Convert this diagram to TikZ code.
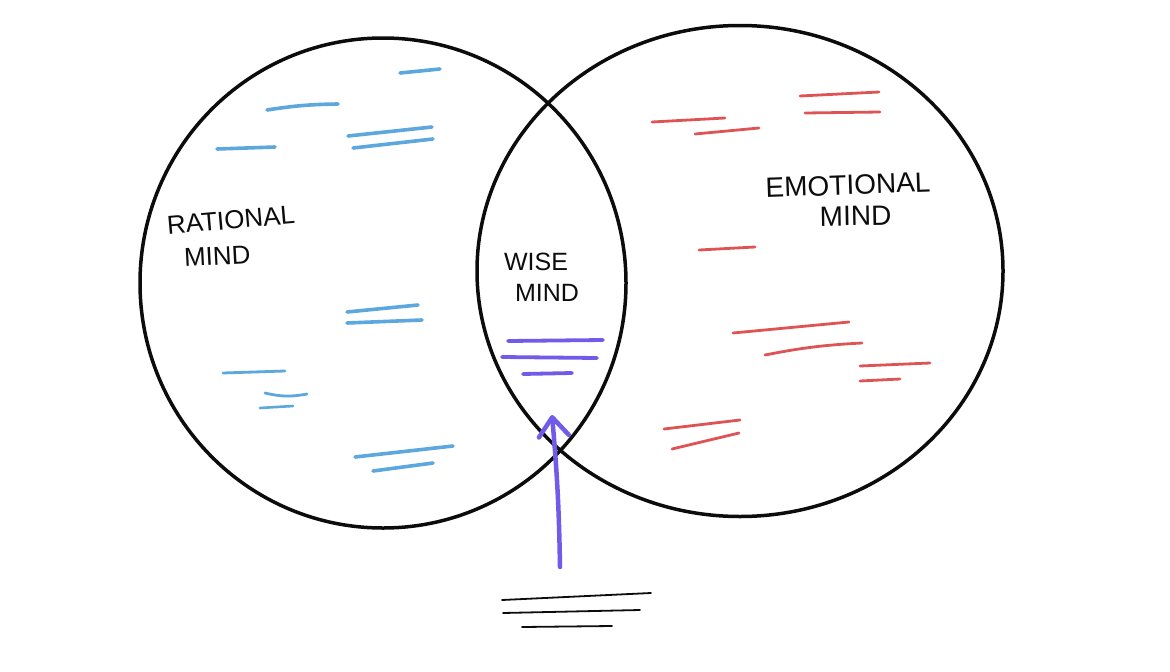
\documentclass[tikz,border=0pt]{standalone}
\usepackage{fontspec}
\setmainfont{Liberation Sans}
\usetikzlibrary{positioning,arrows.meta,shapes.geometric}
\definecolor{ink}{RGB}{12,12,12}
\definecolor{skyblue}{RGB}{92,168,222}
\definecolor{coral}{RGB}{222,84,84}
\definecolor{violet}{RGB}{112,92,232}
\tikzset{
  ring/.style={draw=ink, line width=3.5pt, ellipse, inner sep=0pt},
  word/.style={align=center, text=ink, inner sep=0pt},
  bluestroke/.style={draw=skyblue, line width=3.6pt, line cap=round},
  redstroke/.style={draw=coral, line width=2.8pt, line cap=round},
  wisestroke/.style={draw=violet, line width=3.8pt, line cap=round},
  inkstroke/.style={draw=ink, line width=1.8pt, line cap=round},
  uparr/.style={-{Straight Barb[round, length=19pt, width=30pt]}, draw=violet,
                line width=4.5pt, line cap=round},
}
\begin{document}
\begin{tikzpicture}[x=1pt, y=-1pt]
  \useasboundingbox (0,0) rectangle (1170,672);

  % the two minds
  \node[ring, minimum width=486pt, minimum height=490pt] (rational) at (383,283) {};
  \node[ring, minimum width=526pt, minimum height=491pt] (emotional) at (740,271) {};

  \node[word, rotate=5, font=\fontsize{26}{30}\selectfont] (ratword) at (231,220) {RATIONAL};
  \node[word, rotate=3, font=\fontsize{26}{30}\selectfont, below=17pt of ratword,
        xshift=-15pt] (ratmind) {MIND};
  \node[word, rotate=2, font=\fontsize{28}{31}\selectfont] (emoword) at (848,185) {EMOTIONAL};
  \node[word, rotate=1, font=\fontsize{28}{31}\selectfont, below=11pt of emoword,
        xshift=7pt] (emomind) {MIND};
  \node[word, font=\fontsize{25}{28}\selectfont] (wiseword) at (536,262) {WISE};
  \node[word, font=\fontsize{25}{28}\selectfont, below=13pt of wiseword,
        xshift=11pt] (wisemind) {MIND};

  % blue notes
  \draw[bluestroke] (400,73) -- (440,69);
  \draw[bluestroke] (267,110) to[bend left=4] (338,104);
  \draw[bluestroke] (348,136) -- (432,127);
  \draw[bluestroke] (353,148) -- (433,139);
  \draw[bluestroke] (217,149) -- (275,147);
  \draw[bluestroke] (347,312) -- (418,305);
  \draw[bluestroke] (347,323) -- (422,320);
  \draw[bluestroke, line width=2.8pt] (223,373) -- (285,371);
  \draw[bluestroke, line width=2.8pt] (265,393) to[bend right=12] (307,394);
  \draw[bluestroke, line width=2.6pt] (260,408) -- (293,406);
  \draw[bluestroke] (355,457) -- (453,446);
  \draw[bluestroke] (373,471) -- (433,463);

  % red notes
  \draw[redstroke] (652,122) -- (725,118);
  \draw[redstroke] (695,134) -- (759,128);
  \draw[redstroke] (800,96) -- (879,92);
  \draw[redstroke] (805,113) -- (880,112);
  \draw[redstroke] (699,250) -- (755,247);
  \draw[redstroke] (733,333) -- (849,322);
  \draw[redstroke] (765,355) to[bend left=4] (862,343);
  \draw[redstroke] (860,366) -- (930,363);
  \draw[redstroke] (860,381) -- (900,379);
  \draw[redstroke] (664,429) -- (740,420);
  \draw[redstroke] (672,449) -- (739,433);

  % wise notes
  \draw[wisestroke] (508,341) -- (603,340);
  \draw[wisestroke] (502,357) -- (597,358);
  \draw[wisestroke] (523,374) -- (572,373);

  % pointer from below
  \coordinate (arrfoot) at (560,567);
  \coordinate (arrtip) at (552,415);
  \draw[uparr] (arrfoot) to[bend right=2] (arrtip);

  \draw[inkstroke] (502,600) -- (651,593);
  \draw[inkstroke] (503,613) -- (640,610);
  \draw[inkstroke] (522,627) -- (612,626);
\end{tikzpicture}
\end{document}
